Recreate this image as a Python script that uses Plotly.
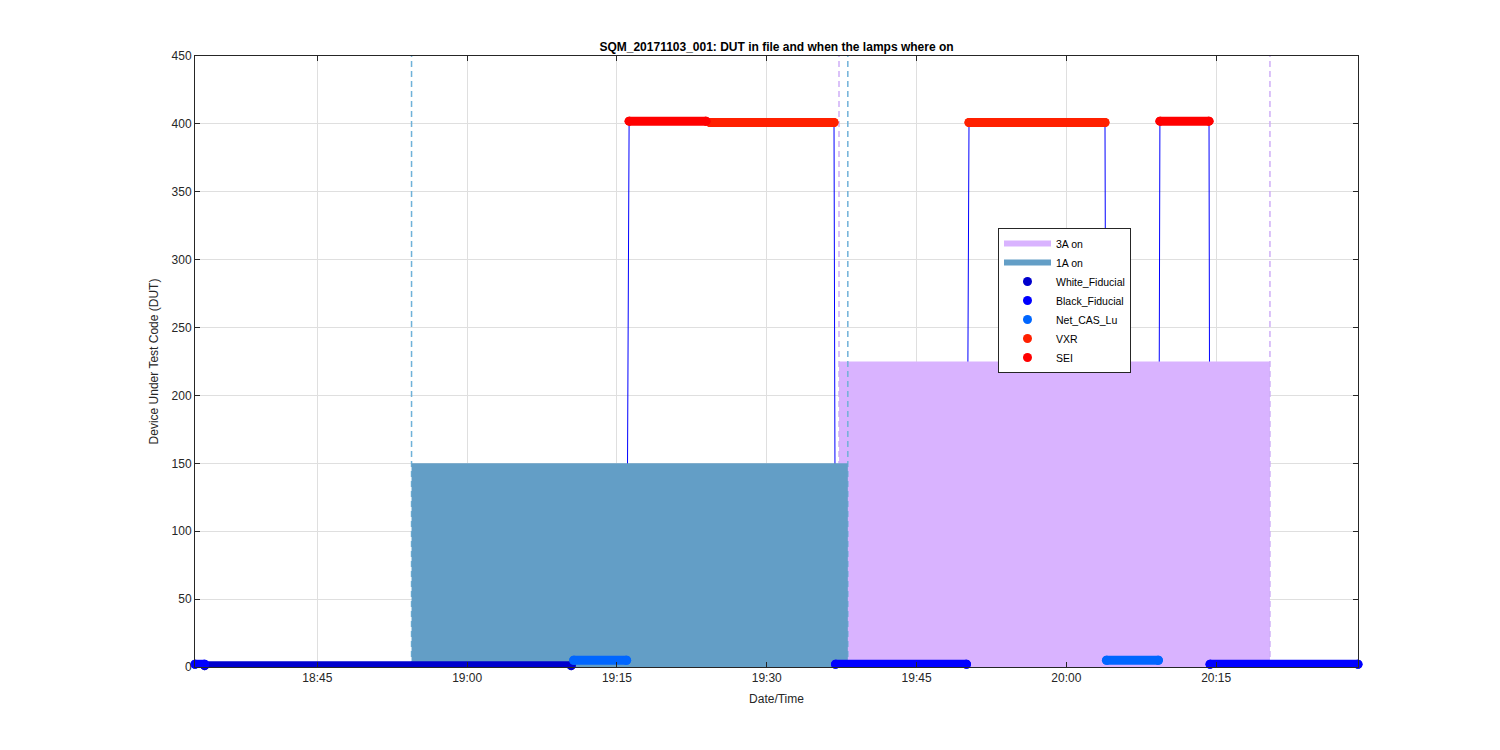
import plotly.graph_objects as go

DAY = "2017-11-03 "

# Device-under-test segments: (series, start, end, DUT code)
seg_series = ["Black_Fiducial", "White_Fiducial", "Net_CAS_Lu", "SEI", "VXR",
              "Black_Fiducial", "VXR", "Net_CAS_Lu", "SEI", "Black_Fiducial"]
seg_start = ["18:32:45", "18:33:43", "19:10:40", "19:16:13", "19:24:19",
             "19:36:53", "19:50:15", "20:04:01", "20:09:22", "20:14:23"]
seg_end = ["18:33:43", "19:10:25", "19:15:58", "19:23:55", "19:36:44",
           "19:50:00", "20:03:52", "20:09:13", "20:14:17", "20:29:12"]
dut_code = {"White_Fiducial": 1, "Black_Fiducial": 2, "Net_CAS_Lu": 5,
            "VXR": 401, "SEI": 402}

series_names = ["White_Fiducial", "Black_Fiducial", "Net_CAS_Lu", "VXR", "SEI"]
series_colors = ["#0000CD", "#0000FF", "#0066FF", "#FF2000", "#FF0000"]

# Lamps
lamp_names = ["3A on", "1A on"]
lamp_on = ["19:37:14", "18:54:26"]
lamp_off = ["20:20:23", "19:38:07"]
lamp_level = [225, 150]
lamp_fill = ["#D9B3FF", "#639EC6"]
lamp_dash = ["#CFAEF7", "#6FB2D9"]

x_range = ["18:32:45", "20:29:12"]
y_ticks = [0, 50, 100, 150, 200, 250, 300, 350, 400, 450]
x_tick_start = "18:45:00"

fig = go.Figure()

# thin DUT line, all points in time order
xs, ys = [], []
for s, a, b in zip(seg_series, seg_start, seg_end):
    xs += [DAY + a, DAY + b]
    ys += [dut_code[s], dut_code[s]]
fig.add_trace(go.Scatter(x=xs, y=ys, mode="lines", line=dict(color="#0000FF", width=1),
                         showlegend=False, hoverinfo="skip"))

# lamp patches and dashed markers
for i, name in enumerate(lamp_names):
    on, off, h = DAY + lamp_on[i], DAY + lamp_off[i], lamp_level[i]
    if i == 1:
        for t in (on, off):
            fig.add_trace(go.Scatter(x=[t, t], y=[0, 450], mode="lines",
                                     line=dict(color=lamp_dash[i], width=1.5, dash="6px,4px"),
                                     showlegend=False, hoverinfo="skip"))
    fig.add_trace(go.Scatter(x=[on, on, off, off, on], y=[0, h, h, 0, 0], mode="none",
                             fill="toself", fillcolor=lamp_fill[i], name=name))
    if i == 0:
        for t in (on, off):
            fig.add_trace(go.Scatter(x=[t, t], y=[0, 450], mode="lines",
                                     line=dict(color=lamp_dash[i], width=1.5, dash="6px,4px"),
                                     showlegend=False, hoverinfo="skip"))

# thick segments
for name, col in zip(series_names, series_colors):
    lx, ly = [], []
    for s, a, b in zip(seg_series, seg_start, seg_end):
        if s == name:
            lx += [DAY + a, DAY + b, None]
            ly += [dut_code[s], dut_code[s], None]
    fig.add_trace(go.Scatter(x=lx, y=ly, mode="lines+markers",
                             line=dict(color=col, width=9),
                             marker=dict(color=col, size=9),
                             cliponaxis=False, showlegend=False, hoverinfo="skip"))
    fig.add_trace(go.Scatter(x=[v for v in lx if v is not None],
                             y=[v for v in ly if v is not None], mode="markers",
                             marker=dict(color=col, size=9), cliponaxis=False, name=name))

axis_common = dict(showline=True, linecolor="#262626", linewidth=1, mirror="allticks",
                   ticks="inside", ticklen=5, tickcolor="#262626",
                   showgrid=True, gridcolor="#DFDFDF", gridwidth=1, zeroline=False,
                   tickfont=dict(family="Arial, Liberation Sans", size=12, color="#262626"))

# page body adds an 8 px offset; plot area aimed at x 195..1358, y 56..667 on screen
L, R, T, B = 187, 150, 48, 91

fig.update_layout(
    width=1500, height=750,
    margin=dict(l=L, r=R, t=T, b=B),
    paper_bgcolor="white", plot_bgcolor="white",
    font=dict(family="Arial, Liberation Sans", size=12, color="#262626"),
    title=dict(text="<b>SQM_20171103_001: DUT in file and when the lamps where on</b>",
               x=(L + (1500 - R)) / 2 / 1500, xanchor="center", y=1 - 39 / 750, yanchor="middle",
               font=dict(size=12, color="#000000")),
    xaxis=dict(range=[DAY + x_range[0], DAY + x_range[1]], type="date",
               tick0=DAY + x_tick_start, dtick=15 * 60 * 1000, tickformat="%H:%M",
               title=dict(text="Date/Time", font=dict(size=12), standoff=10),
               **axis_common),
    yaxis=dict(range=[0, 450], tickvals=y_ticks,
               title=dict(text="Device Under Test Code (DUT)", font=dict(size=12), standoff=10),
               **axis_common),
    legend=dict(x=(998 - 195) / 1163, y=(667 - 228) / 611, xanchor="left", yanchor="top",
                bgcolor="white", bordercolor="#262626", borderwidth=1, itemwidth=47,
                font=dict(size=10.5, color="#000000"), tracegroupgap=0),
    showlegend=True,
)

fig.write_html("out.html")
